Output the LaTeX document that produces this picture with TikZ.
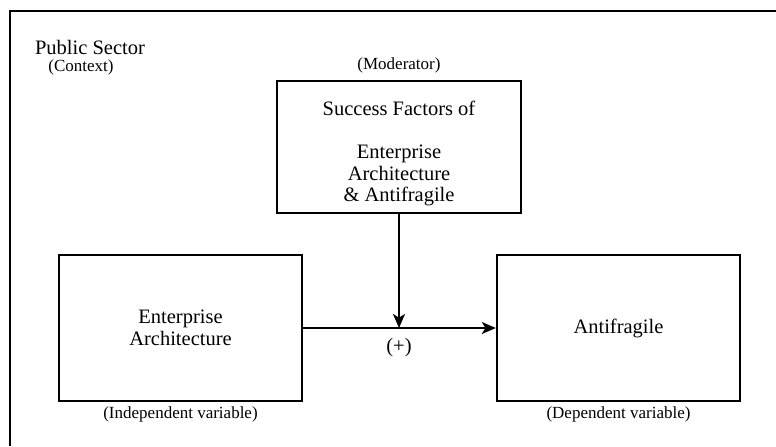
\documentclass[tikz,border=0pt]{standalone}
\usepackage{fontspec}
\setmainfont{Liberation Serif}
\usetikzlibrary{arrows.meta, positioning}

\tikzset{
  varbox/.style={draw, line width=1.2pt, minimum width=121.5pt, minimum height=73pt,
    align=center, font=\fontsize{10.25}{10.75}\selectfont},
  note/.style={font=\fontsize{8.5}{10}\selectfont, inner sep=0pt},
  link/.style={->, line width=0.9pt},
}

\begin{document}
\begin{tikzpicture}[>={Stealth[length=7pt,width=6pt,inset=1.8pt]}, x=0.5pt, y=-0.5pt]
    \useasboundingbox (0,0) rectangle (776,446);

    % --- Context frame, running off the page ---
    \coordinate (corner) at (10,11);
    \coordinate (frameR) at (776,11);
    \coordinate (frameB) at (10,446);
    \draw[line width=1.2pt] (frameR) -- (corner) -- (frameB);

    \node[font=\fontsize{10.25}{12.5}\selectfont, inner sep=0pt] (ctx) at (90,47) {Public Sector};
    \node[note] (ctxsub) at (81,67) {(Context)};

    % --- Variables as boxes ---
    \node[varbox, minimum width=122pt, minimum height=59pt] (mod) at (399,147)
      {\rule{0pt}{14pt}Success Factors of\\[10.75pt]Enterprise\\Architecture\\\& Antifragile};
    \node[varbox] (ea) at (180.5,328) {Enterprise\\Architecture};
    \node[varbox] (af) at (618.5,328) {Antifragile};

    % --- Labels for the boxes ---
    \node[note, above=3pt of mod] (modlab) {(Moderator)};
    \node[note, below=2pt of ea] (ealab) {(Independent variable)};
    \node[note, below=2pt of af] (aflab) {(Dependent variable)};

    % --- Effect arrows ---
    \draw[link] (ea) -- (af);
    \coordinate (meet) at (mod.south |- ea.east);
    \draw[link] (mod) -- (meet);
    \node[font=\fontsize{10.25}{12.5}\selectfont] (plus) at ([yshift=-10pt]meet) {(+)};
\end{tikzpicture}
\end{document}
